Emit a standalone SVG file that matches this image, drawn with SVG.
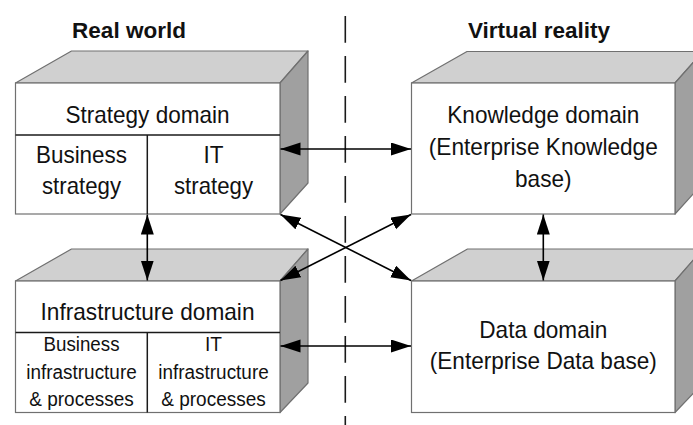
<svg xmlns="http://www.w3.org/2000/svg" width="693" height="425" viewBox="0 0 693 425">
<style>
  .front { fill: #ffffff; stroke: #707070; stroke-width: 1.2; }
  .top { fill: #d0d0d0; stroke: #707070; stroke-width: 1.2; stroke-linejoin: round; }
  .side { fill: #a0a0a0; stroke: #707070; stroke-width: 1.2; stroke-linejoin: round; }
  .div { stroke: #1a1a1a; stroke-width: 1.5; fill: none; }
  .t { font-family: "Liberation Sans", Arial, sans-serif; font-size: 24px; fill: #111; text-anchor: middle; }
  .s { font-family: "Liberation Sans", Arial, sans-serif; font-size: 20px; fill: #111; text-anchor: middle; }
  .title { font-family: "Liberation Sans", Arial, sans-serif; font-size: 22.5px; font-weight: bold; fill: #111; text-anchor: middle; }
  .conn { stroke: #000; stroke-width: 1.6; fill: none; marker-start: url(#arr); marker-end: url(#arr); }
  .sep { stroke: #1a1a1a; stroke-width: 1.6; stroke-dasharray: 26.7 13.3; fill: none; }
</style>
<defs>
  <marker id="arr" markerUnits="userSpaceOnUse" markerWidth="21" markerHeight="14" refX="20" refY="6.5" orient="auto-start-reverse" viewBox="0 0 21 14">
    <path d="M0,0 L20,6.5 L0,13 Z" fill="#000"/>
  </marker>
</defs>

<g id="titles">
  <text class="title" x="129" y="38">Real world</text>
  <text class="title" x="539" y="38">Virtual reality</text>
</g>

<g id="separator">
  <line class="sep" x1="345.3" y1="16" x2="345.3" y2="425"/>
</g>

<g id="strategy-domain">
  <polygon class="top" points="15.5,83 71.5,51 308,51 280,83"/>
  <polygon class="side" points="280,83 308,51 308,183 280,214"/>
  <rect class="front" x="15.5" y="83" width="264.5" height="131"/>
  <line class="div" x1="15.5" y1="135" x2="280" y2="135"/>
  <line class="div" x1="147.3" y1="135" x2="147.3" y2="214"/>
  <text class="t" x="147.5" y="123.3" textLength="164" lengthAdjust="spacingAndGlyphs">Strategy domain</text>
  <text class="t" x="81.5" y="163.3" textLength="91" lengthAdjust="spacingAndGlyphs">Business</text>
  <text class="t" x="81.5" y="194" textLength="79" lengthAdjust="spacingAndGlyphs">strategy</text>
  <text class="t" x="213.5" y="163.3" textLength="20" lengthAdjust="spacingAndGlyphs">IT</text>
  <text class="t" x="213.5" y="194" textLength="79" lengthAdjust="spacingAndGlyphs">strategy</text>
</g>

<g id="infrastructure-domain">
  <polygon class="top" points="15.5,281 71.5,249 308,249 280,281"/>
  <polygon class="side" points="280,281 308,249 308,383 280,412.5"/>
  <rect class="front" x="15.5" y="281" width="264.5" height="131.5"/>
  <line class="div" x1="15.5" y1="332.5" x2="280" y2="332.5"/>
  <line class="div" x1="147.3" y1="332.5" x2="147.3" y2="412.5"/>
  <text class="t" x="147.5" y="320" textLength="214" lengthAdjust="spacingAndGlyphs">Infrastructure domain</text>
  <text class="s" x="81.5" y="351" textLength="76" lengthAdjust="spacingAndGlyphs">Business</text>
  <text class="s" x="81.5" y="379" textLength="110.5" lengthAdjust="spacingAndGlyphs">infrastructure</text>
  <text class="s" x="81.5" y="406" textLength="104.5" lengthAdjust="spacingAndGlyphs">&amp; processes</text>
  <text class="s" x="213.5" y="351" textLength="17" lengthAdjust="spacingAndGlyphs">IT</text>
  <text class="s" x="213.5" y="379" textLength="110.5" lengthAdjust="spacingAndGlyphs">infrastructure</text>
  <text class="s" x="213.5" y="406" textLength="104.5" lengthAdjust="spacingAndGlyphs">&amp; processes</text>
</g>

<g id="knowledge-domain">
  <polygon class="top" points="411.5,83 467,51.5 703,51.5 675,83"/>
  <polygon class="side" points="675,83 703,51.5 703,183 675,214"/>
  <rect class="front" x="411.5" y="83" width="263.5" height="131"/>
  <text class="t" x="543.3" y="123.3" textLength="192" lengthAdjust="spacingAndGlyphs">Knowledge domain</text>
  <text class="t" x="543.3" y="155" textLength="229" lengthAdjust="spacingAndGlyphs">(Enterprise Knowledge</text>
  <text class="t" x="543.3" y="186.7" textLength="56.5" lengthAdjust="spacingAndGlyphs">base)</text>
</g>

<g id="data-domain">
  <polygon class="top" points="411.5,281 467.5,249 703,249 675,281"/>
  <polygon class="side" points="675,281 703,249 703,383 675,412.5"/>
  <rect class="front" x="411.5" y="281" width="263.5" height="131.5"/>
  <text class="t" x="543.3" y="337.5" textLength="128" lengthAdjust="spacingAndGlyphs">Data domain</text>
  <text class="t" x="543.3" y="369" textLength="227" lengthAdjust="spacingAndGlyphs">(Enterprise Data base)</text>
</g>

<g id="connectors">
  <line class="conn" x1="280.5" y1="149" x2="411" y2="149"/>
  <line class="conn" x1="280.5" y1="346" x2="411" y2="346"/>
  <line class="conn" x1="147.3" y1="214.5" x2="147.3" y2="280.5"/>
  <line class="conn" x1="543.3" y1="214.5" x2="543.3" y2="280.5"/>
  <line class="conn" x1="280.5" y1="214.5" x2="411" y2="280.5"/>
  <line class="conn" x1="280.5" y1="280.5" x2="411" y2="214.5"/>
</g>
</svg>
